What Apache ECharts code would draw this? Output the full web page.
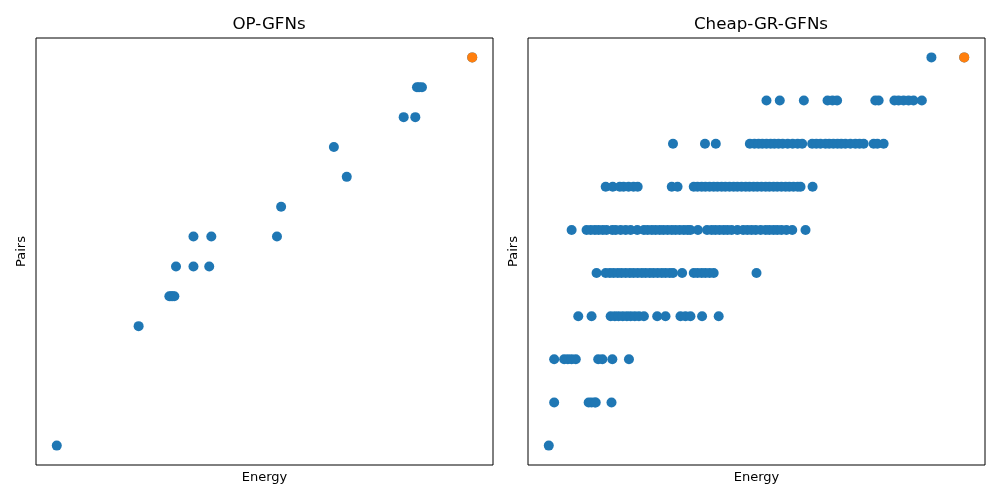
<!DOCTYPE html>
<html>
<head>
<meta charset="utf-8">
<script src="https://cdn.jsdelivr.net/npm/echarts@6/dist/echarts.min.js"></script>
<style>html,body{margin:0;padding:0;background:#fff}#c{width:1000px;height:500px}</style>
</head>
<body>
<div id="c"></div>
<script>
// Titles and axis names
const titles = ['OP-GFNs', 'Cheap-GR-GFNs'];
const xName = 'Energy';
const yName = 'Pairs';

// OP-GFNs: pairs levels and energies at each level (normalised energy units)
const opLevels = [0, 4, 5, 6, 7, 8, 9, 10, 11, 12, 13];
const opEnergyByLevel = [
  [0],
  [19.7],
  [27.1, 27.5, 27.9, 28.3],
  [28.7, 32.9, 36.7],
  [32.9, 37.2, 53.0],
  [54.0],
  [69.8],
  [66.7],
  [83.5, 86.3],
  [86.7, 87.2, 87.9],
  [100]
];
const opBest = [100, 13];

// Cheap-GR-GFNs
const cheapLevels = [0, 1, 2, 3, 4, 5, 6, 7, 8, 9];
const cheapEnergyByLevel = [
  [0],
  [1.3, 9.6, 10.3, 11.1, 11.3, 15.1],
  [1.3, 3.7, 4.6, 5.5, 6.5, 11.9, 12.9, 15.3, 19.3],
  [7.1, 10.3, 14.9, 15.9, 16.8, 17.8, 18.8, 19.7, 20.7, 21.7, 22.9, 26.1, 28.1, 31.7, 32.9, 34.1, 36.9, 40.9],
  [11.5, 13.7, 14.7, 15.6, 16.6, 17.5, 18.5, 19.5, 20.4, 21.4, 22.4, 23.3, 24.3, 25.2, 26.2, 27.2, 28.1, 29.1, 29.9, 32.1, 34.9, 35.8, 36.8, 37.7, 38.7, 39.7, 50.0],
  [5.5, 9.1, 10.1, 11.1, 12.0, 13.0, 13.9, 15.3, 16.1, 17.3, 18.5, 19.7, 21.3, 22.9, 23.8, 24.8, 25.7, 26.7, 27.6, 28.6, 29.6, 30.5, 31.5, 32.5, 33.4, 34.1, 35.9, 38.1, 39.2, 40.1, 41.1, 42.1, 43.0, 44.0, 45.4, 46.8, 47.8, 48.8, 49.8, 51.0, 52.2, 53.1, 54.1, 55.0, 56.0, 57.2, 58.6, 61.8],
  [13.7, 15.4, 17.1, 18.0, 19.2, 20.4, 21.4, 29.6, 31.0, 34.9, 35.8, 36.8, 37.7, 38.7, 39.7, 40.6, 41.6, 42.5, 43.5, 44.5, 45.4, 46.4, 47.4, 48.3, 49.3, 50.2, 51.2, 52.2, 53.1, 54.1, 55.0, 56.0, 57.0, 57.9, 58.9, 59.9, 60.6, 63.5],
  [29.9, 37.6, 40.2, 48.4, 49.5, 50.5, 51.4, 52.4, 53.4, 54.3, 55.3, 56.3, 57.5, 58.7, 59.9, 61.0, 63.4, 64.4, 65.4, 66.6, 67.5, 68.5, 69.5, 70.4, 71.4, 72.6, 73.8, 74.8, 75.8, 78.2, 79.1, 80.6],
  [52.4, 55.6, 61.4, 67.1, 68.3, 69.4, 78.6, 79.4, 83.2, 84.2, 85.4, 86.6, 87.8, 89.8],
  [92.1, 100]
];
const cheapBest = [100, 9];

function toPoints(levels, byLevel) {
  const pts = [];
  levels.forEach((lv, i) => byLevel[i].forEach(e => pts.push([e, lv])));
  return pts;
}

const font = 'DejaVu Sans';
const gridBase = {top: 38, height: 427, width: 457, show: true, borderColor: '#000', borderWidth: 1, backgroundColor: '#fff'};
function xAx(i) {
  return {gridIndex: i, type: 'value', min: -5, max: 105, name: xName, nameLocation: 'middle', nameGap: 6,
    nameTextStyle: {fontFamily: font, fontSize: 13, color: '#000'},
    axisLine: {show: false}, axisTick: {show: false}, axisLabel: {show: false}, splitLine: {show: false}};
}
function yAx(i, maxLv) {
  const pad = maxLv * 0.05;
  return {gridIndex: i, type: 'value', min: -pad, max: maxLv + pad, name: yName, nameLocation: 'middle', nameGap: 8,
    nameTextStyle: {fontFamily: font, fontSize: 13, color: '#000'},
    axisLine: {show: false}, axisTick: {show: false}, axisLabel: {show: false}, splitLine: {show: false}};
}
const blue = '#1f77b4', orange = '#ff7f0e';
const chart = echarts.init(document.getElementById('c'), null, {renderer: 'canvas'});
chart.setOption({
  animation: false,
  title: [
    {text: titles[0], left: 264, top: 11, textAlign: 'center', textStyle: {fontFamily: font, fontSize: 16.7, fontWeight: 'normal', color: '#000'}},
    {text: titles[1], left: 756, top: 11, textAlign: 'center', textStyle: {fontFamily: font, fontSize: 16.7, fontWeight: 'normal', color: '#000'}}
  ],
  grid: [Object.assign({left: 36}, gridBase), Object.assign({left: 528}, gridBase)],
  xAxis: [xAx(0), xAx(1)],
  yAxis: [yAx(0, opLevels[opLevels.length - 1]), yAx(1, cheapLevels[cheapLevels.length - 1])],
  series: [
    {type: 'scatter', xAxisIndex: 0, yAxisIndex: 0, symbolSize: 10, itemStyle: {color: blue, opacity: 1}, data: toPoints(opLevels, opEnergyByLevel)},
    {type: 'scatter', xAxisIndex: 0, yAxisIndex: 0, symbolSize: 10, itemStyle: {color: orange, opacity: 1}, data: [opBest], z: 3},
    {type: 'scatter', xAxisIndex: 1, yAxisIndex: 1, symbolSize: 10, itemStyle: {color: blue, opacity: 1}, data: toPoints(cheapLevels, cheapEnergyByLevel)},
    {type: 'scatter', xAxisIndex: 1, yAxisIndex: 1, symbolSize: 10, itemStyle: {color: orange, opacity: 1}, data: [cheapBest], z: 3}
  ]
});
</script>
</body>
</html>
